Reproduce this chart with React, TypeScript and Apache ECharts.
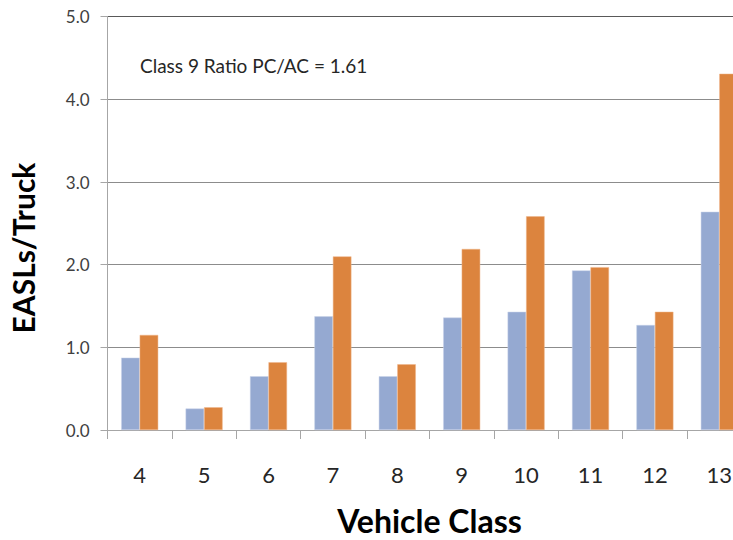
import React, { useEffect, useRef } from "react";
import * as echarts from "echarts";

const categories = ["4", "5", "6", "7", "8", "9", "10", "11", "12", "13"];
const seriesA = [0.875, 0.26, 0.65, 1.375, 0.65, 1.36, 1.43, 1.93, 1.27, 2.64];
const seriesB = [1.15, 0.275, 0.82, 2.1, 0.795, 2.19, 2.585, 1.97, 1.43, 4.31];
const yTicks = [0, 1, 2, 3, 4, 5];
const annotation = "Class 9 Ratio PC/AC = 1.61";
const yTitle = "EASLs/Truck";
const xTitle = "Vehicle Class";

export default function App() {
  const ref = useRef<HTMLDivElement>(null);
  useEffect(() => {
    if (!ref.current) return;
    const chart = echarts.init(ref.current, undefined, { renderer: "svg" });
    const font = "Lato, 'Open Sans', sans-serif";
    chart.setOption({
      animation: false,
      backgroundColor: "#ffffff",
      grid: {
        left: 107.5,
        top: 16.7,
        width: 644,
        height: 413.3,
        containLabel: false,
        outerBoundsMode: "none",
      },
      graphic: [
        {
          type: "text",
          left: 140,
          top: 56,
          style: { text: annotation, font: `19px ${font}`, fill: "#262626" },
        },
        {
          type: "text",
          x: 23,
          y: 248,
          rotation: Math.PI / 2,
          style: {
            text: yTitle,
            font: `bold 30px ${font}`,
            fill: "#000",
            align: "center",
            verticalAlign: "middle",
          },
        },
      ],
      xAxis: {
        type: "category",
        data: categories,
        name: xTitle,
        nameLocation: "middle",
        nameGap: 74,
        nameTextStyle: { fontFamily: font, fontSize: 32, fontWeight: "bold", color: "#000" },
        axisLine: { show: true, lineStyle: { color: "#a6a6a6", width: 1 } },
        axisTick: { show: true, interval: 0, length: 9, lineStyle: { color: "#a6a6a6" } },
        axisLabel: { interval: 0, margin: 33, fontFamily: font, fontSize: 22, color: "#262626" },
      },
      yAxis: {
        type: "value",
        min: 0,
        max: 5,
        interval: 1,
        axisLine: { show: true, lineStyle: { color: "#a6a6a6", width: 1 } },
        axisTick: { show: true, length: 7, lineStyle: { color: "#a6a6a6" } },
        axisLabel: {
          margin: 18,
          fontFamily: font,
          fontSize: 17,
          color: "#404040",
          formatter: (v: number) => (yTicks.includes(v) ? v.toFixed(1) : ""),
        },
        splitLine: {
          show: true,
          lineStyle: {
            color: ["#8c8c8c", "#8c8c8c", "#8c8c8c", "#8c8c8c", "#8c8c8c", "#595959"],
            width: 1,
          },
        },
      },
      series: [
        {
          type: "bar",
          data: seriesA,
          barWidth: 18.5,
          barGap: "0%",
          itemStyle: { color: "#95a9d1", borderColor: "#c8d2e8", borderWidth: 0.5 },
        },
        {
          type: "bar",
          data: seriesB,
          barWidth: 18.5,
          barGap: "0%",
          itemStyle: { color: "#dc843e", borderColor: "#eeb58a", borderWidth: 0.5 },
        },
      ],
    });
    return () => chart.dispose();
  }, []);
  return <div ref={ref} style={{ width: 733, height: 540, position: "absolute", left: 0, top: 0 }} />;
}
